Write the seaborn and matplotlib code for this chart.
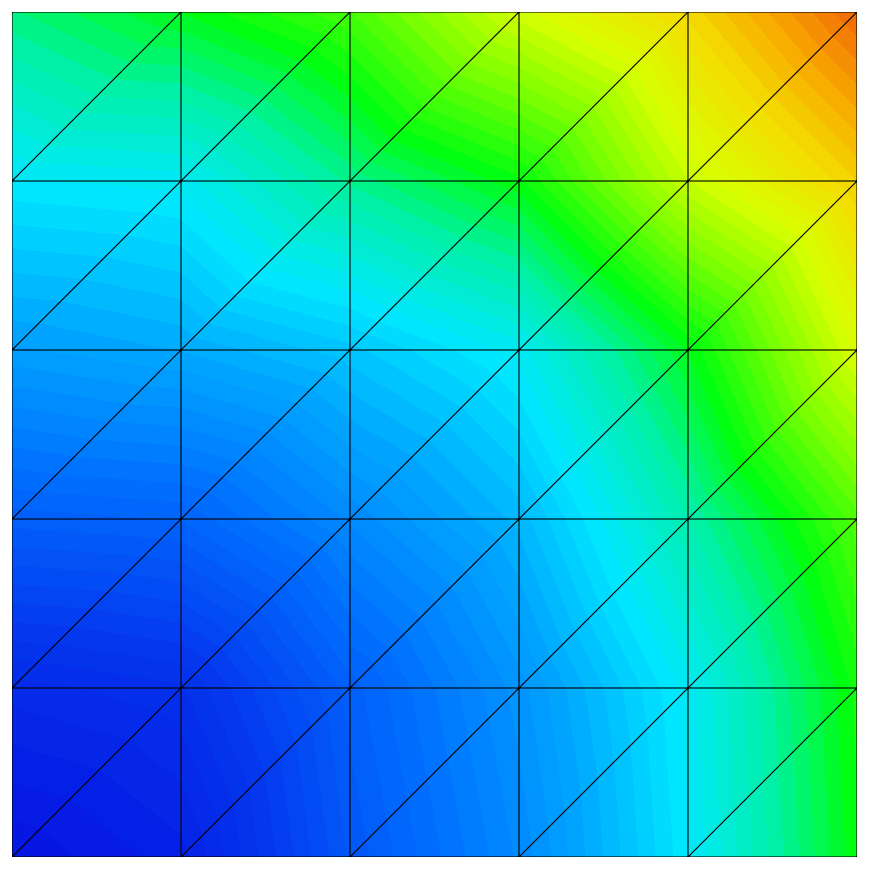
import matplotlib

matplotlib.use("Agg")
import matplotlib.pyplot as plt
import matplotlib.tri as mtri
import numpy as np
import seaborn as sns
from matplotlib.colors import LinearSegmentedColormap

# node coordinates of the 6x6 mesh
x_nodes = [0, 1, 2, 3, 4, 5]
y_nodes = [0, 1, 2, 3, 4, 5]

# nodal values, one row per y (bottom row first)
z_row0 = [0.00, 0.04, 0.19, 0.30, 0.45, 0.62]
z_row1 = [0.07, 0.09, 0.21, 0.32, 0.46, 0.63]
z_row2 = [0.21, 0.22, 0.30, 0.38, 0.53, 0.68]
z_row3 = [0.34, 0.36, 0.40, 0.46, 0.61, 0.80]
z_row4 = [0.45, 0.46, 0.55, 0.62, 0.78, 0.89]
z_row5 = [0.56, 0.61, 0.67, 0.79, 0.88, 1.00]

cmap_stops = [0.0, 0.12, 0.25, 0.36, 0.45, 0.54, 0.62, 0.72, 0.80, 0.88, 0.94, 1.0]
cmap_colors = ["#0615e2", "#0438ee", "#0070ff", "#00a8ff", "#00e8ff", "#00f0a8",
               "#00ff10", "#80ff00", "#d8ff00", "#f4dc00", "#f8a800", "#f06c08"]
n_levels = 64

sns.set_style("white")

xx, yy = np.meshgrid(x_nodes, y_nodes)
zz = np.array([z_row0, z_row1, z_row2, z_row3, z_row4, z_row5])
nx = len(x_nodes)
tris = []
for j in range(len(y_nodes) - 1):
    for i in range(nx - 1):
        a = j * nx + i
        b = a + 1
        c = a + nx
        d = c + 1
        tris.append([a, b, d])
        tris.append([a, d, c])
tri = mtri.Triangulation(xx.ravel(), yy.ravel(), tris)

cmap = LinearSegmentedColormap.from_list("mesh", list(zip(cmap_stops, cmap_colors)))

fig = plt.figure(figsize=(8.69, 8.72), dpi=100)
ax = fig.add_axes([12 / 869, 15 / 872, 845 / 869, 845 / 872])
ax.tricontourf(tri, zz.ravel(), levels=np.linspace(0, 1, n_levels + 1), cmap=cmap,
               vmin=0, vmax=1, antialiased=False)
ax.triplot(tri, color="black", lw=0.8)
ax.set_xlim(0, 5)
ax.set_ylim(0, 5)
ax.axis("off")
fig.savefig("out.png", dpi=100)
plt.close(fig)
